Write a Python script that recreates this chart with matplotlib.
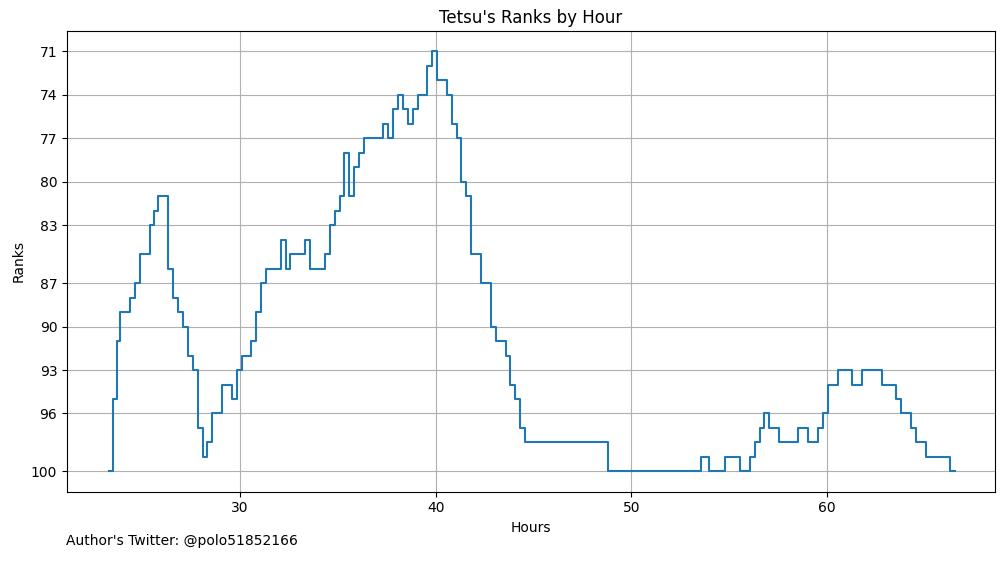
import matplotlib
matplotlib.use("Agg")
import matplotlib.pyplot as plt

hours = [23.30, 23.50, 23.71, 23.86, 24.37, 24.63, 24.88, 25.40, 25.60, 25.81,
         26.32, 26.57, 26.83, 27.08, 27.34, 27.60, 27.85, 28.11, 28.31, 28.57,
         29.08, 29.59, 29.85, 30.10, 30.56, 30.82, 31.07, 31.33, 32.10, 32.35,
         32.56, 33.32, 33.58, 34.35, 34.60, 34.86, 35.12, 35.32, 35.58, 35.83,
         36.09, 36.34, 37.31, 37.57, 37.83, 38.08, 38.34, 38.59, 38.85, 39.10,
         39.57, 39.82, 40.08, 40.59, 40.84, 41.10, 41.30, 41.56, 41.82, 42.33,
         42.84, 43.09, 43.61, 43.81, 44.07, 44.32, 44.58, 48.82, 53.58, 53.99,
         54.81, 55.58, 56.09, 56.34, 56.60, 56.80, 57.06, 57.57, 58.54, 59.05,
         59.57, 59.82, 60.08, 60.59, 61.30, 61.82, 62.84, 63.55, 63.81, 64.32,
         64.58, 65.09, 66.32, 66.57]
ranks = [100, 95, 91, 89, 88, 87, 85, 83, 82, 81,
         86, 88, 89, 90, 92, 93, 97, 99, 98, 96,
         94, 95, 93, 92, 91, 89, 87, 86, 84, 86,
         85, 84, 86, 85, 83, 82, 81, 78, 81, 79,
         78, 77, 76, 77, 75, 74, 75, 76, 75, 74,
         72, 71, 73, 74, 76, 77, 80, 81, 85, 87,
         90, 91, 92, 94, 95, 97, 98, 100, 99, 100,
         99, 100, 99, 98, 97, 96, 97, 98, 97, 98,
         97, 96, 94, 93, 94, 93, 94, 95, 96, 97,
         98, 99, 100, 100]
ytick_vals = [71, 74, 77, 80, 83, 87, 90, 93, 96, 100]

fig = plt.figure(figsize=(10.05, 5.62), dpi=100)
ax = fig.add_axes([0.0667, 0.125, 0.9234, 0.820])
ax.step(hours, ranks, where="post", color="#1f77b4")
ax.set_yticks(ytick_vals)
ax.set_ylim(101.4, 69.6)
ax.set_xlim(21.15, 68.6)
ax.grid(True)
ax.set_title("Tetsu's Ranks by Hour")
ax.set_xlabel("Hours")
ax.set_ylabel("Ranks")
fig.text(0.066, 0.03, "Author's Twitter: @polo51852166", fontsize=10)
fig.savefig("out.png")
